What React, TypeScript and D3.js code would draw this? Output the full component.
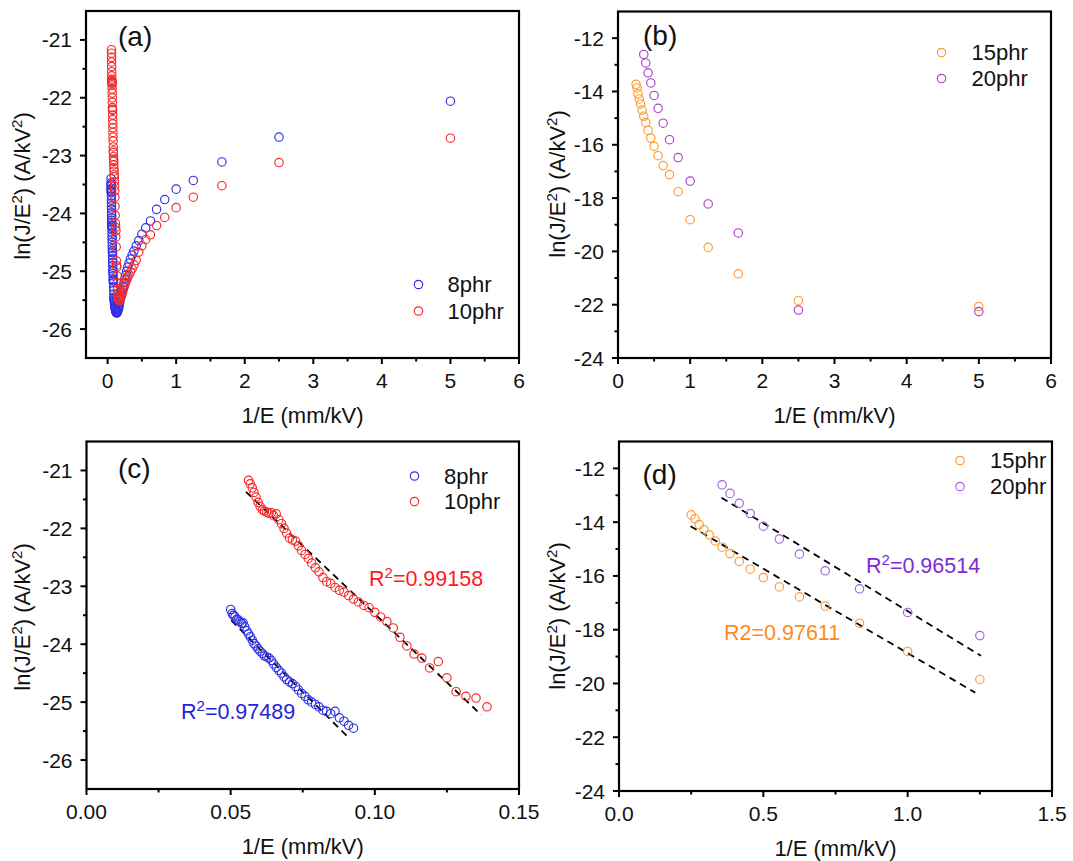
import React from "react";
import * as d3 from "d3";

const FONT = "'Liberation Sans', Arial, Helvetica, sans-serif";

// 1/E (mm/kV) values for the 8phr sample (high field -> low field)
const X_8PHR = [
  0.05, 0.0505, 0.051, 0.0515, 0.0521, 0.0526, 0.0532, 0.0538, 0.0543, 0.0549,
  0.0556, 0.0562, 0.0568, 0.0575, 0.0581, 0.0588, 0.0595, 0.0602, 0.061, 0.0617,
  0.0625, 0.0633, 0.0641, 0.0649, 0.0658, 0.0667, 0.0676, 0.0685, 0.0694, 0.0704,
  0.0714, 0.0725, 0.0735, 0.0746, 0.0758, 0.0769, 0.0781, 0.0794, 0.0806, 0.082,
  0.0833, 0.0847, 0.0862, 0.0877, 0.0893, 0.0909, 0.0926, 0.0943, 0.0962, 0.098,
  0.1, 0.102, 0.1042, 0.1064, 0.1087, 0.1111, 0.1136, 0.1163, 0.119, 0.122,
  0.125, 0.1282, 0.1316, 0.1351, 0.1389, 0.1429, 0.1471, 0.1515, 0.1563, 0.1613,
  0.1667, 0.1724, 0.1786, 0.1852, 0.1923, 0.2, 0.2083, 0.2174, 0.2273, 0.2381,
  0.25, 0.2632, 0.2778, 0.2941, 0.3125, 0.3333, 0.3571, 0.3846, 0.4167, 0.4545,
  0.5, 0.5556, 0.625, 0.7143, 0.8333, 1.0, 1.25, 1.6667, 2.5, 5.0,
];
const Y_8PHR = [
  -23.4, -23.47, -23.5, -23.53, -23.57, -23.58, -23.61, -23.64, -23.63, -23.7,
  -23.77, -23.82, -23.87, -23.93, -23.99, -24.03, -24.08, -24.12, -24.16, -24.2,
  -24.22, -24.24, -24.28, -24.34, -24.4, -24.45, -24.5, -24.56, -24.61, -24.65,
  -24.68, -24.73, -24.79, -24.85, -24.9, -24.96, -25.0, -25.04, -25.08, -25.14,
  -25.16, -25.2, -25.16, -25.27, -25.33, -25.4, -25.45, -25.48, -25.5, -25.52,
  -25.55, -25.57, -25.59, -25.61, -25.63, -25.64, -25.66, -25.67, -25.69, -25.7,
  -25.71, -25.71, -25.72, -25.72, -25.71, -25.7, -25.69, -25.67, -25.65, -25.63,
  -25.6, -25.57, -25.53, -25.49, -25.45, -25.41, -25.36, -25.31, -25.26, -25.2,
  -25.14, -25.07, -25.0, -24.93, -24.86, -24.79, -24.72, -24.65, -24.56, -24.47,
  -24.36, -24.25, -24.13, -23.93, -23.76, -23.58, -23.43, -23.11, -22.68, -22.06,
];

const X_10PHR = [
  0.0562, 0.0568, 0.0575, 0.0581, 0.0588, 0.0595, 0.0602, 0.061, 0.0617, 0.0625,
  0.0633, 0.0641, 0.0649, 0.0658, 0.0667, 0.0676, 0.0685, 0.0694, 0.0704, 0.0714,
  0.0725, 0.0735, 0.0746, 0.0758, 0.0769, 0.0781, 0.0794, 0.0806, 0.082, 0.0833,
  0.0847, 0.0862, 0.0877, 0.0893, 0.0909, 0.0926, 0.0943, 0.0962, 0.098, 0.1,
  0.102, 0.1042, 0.1064, 0.1087, 0.1111, 0.1136, 0.1163, 0.119, 0.122, 0.125,
  0.1282, 0.1316, 0.1351, 0.1389, 0.1429, 0.1471, 0.1515, 0.1563, 0.1613, 0.1667,
  0.1724, 0.1786, 0.1852, 0.1923, 0.2, 0.2083, 0.2174, 0.2273, 0.2381, 0.25,
  0.2632, 0.2778, 0.2941, 0.3125, 0.3333, 0.3571, 0.3846, 0.4167, 0.4545, 0.5,
  0.5556, 0.625, 0.7143, 0.8333, 1.0, 1.25, 1.6667, 2.5, 5.0,
];
const Y_10PHR = [
  -21.17, -21.23, -21.3, -21.38, -21.46, -21.55, -21.62, -21.68, -21.7, -21.72,
  -21.74, -21.73, -21.78, -21.75, -21.85, -21.92, -22.0, -22.08, -22.17, -22.2,
  -22.22, -22.3, -22.38, -22.45, -22.52, -22.6, -22.68, -22.75, -22.85, -22.92,
  -22.95, -23.02, -23.07, -23.1, -23.16, -23.22, -23.27, -23.33, -23.37, -23.45,
  -23.53, -23.61, -23.72, -23.88, -24.03, -24.17, -24.24, -24.41, -24.3, -24.58,
  -24.82, -24.9, -24.93, -25.08, -25.2, -25.3, -25.38, -25.44, -25.48, -25.5,
  -25.51, -25.5, -25.48, -25.46, -25.43, -25.4, -25.36, -25.32, -25.28, -25.24,
  -25.19, -25.15, -25.1, -25.06, -25.01, -24.96, -24.89, -24.81, -24.67, -24.56,
  -24.45, -24.37, -24.21, -24.07, -23.9, -23.72, -23.52, -23.12, -22.7,
];

const X_15PHR = [
  0.25, 0.2632, 0.2778, 0.2941, 0.3125, 0.3333, 0.3571, 0.3846, 0.4167, 0.4545,
  0.5, 0.5556, 0.625, 0.7143, 0.8333, 1.0, 1.25, 1.6667, 2.5, 5.0,
];
const Y_15PHR = [
  -13.73, -13.87, -14.09, -14.28, -14.47, -14.7, -14.93, -15.17, -15.46, -15.75,
  -16.06, -16.41, -16.78, -17.12, -17.76, -18.81, -19.85, -20.84, -21.85, -22.07,
];

const X_20PHR = [
  0.3571, 0.3846, 0.4167, 0.4545, 0.5, 0.5556, 0.625, 0.7143, 0.8333, 1.0,
  1.25, 1.6667, 2.5, 5.0,
];
const Y_20PHR = [
  -12.61, -12.93, -13.3, -13.68, -14.15, -14.63, -15.19, -15.81, -16.48, -17.36,
  -18.22, -19.31, -22.2, -22.26,
];

// Linear fits (end points)
const FIT_8PHR_X = [0.0502, 0.0902];
const FIT_8PHR_Y = [-23.59, -25.58];
const FIT_10PHR_X = [0.0553, 0.1369];
const FIT_10PHR_Y = [-21.37, -25.22];
const FIT_15PHR_X = [0.248, 1.234];
const FIT_15PHR_Y = [-14.15, -20.34];
const FIT_20PHR_X = [0.355, 1.254];
const FIT_20PHR_Y = [-13.09, -18.97];

// Ticks
const TICKS_A_X = [0, 1, 2, 3, 4, 5, 6];
const MINOR_A_X = [0.5, 1.5, 2.5, 3.5, 4.5, 5.5];
const TICKS_A_Y = [-26, -25, -24, -23, -22, -21];
const MINOR_A_Y = [-25.5, -24.5, -23.5, -22.5, -21.5];
const TICKS_B_X = [0, 1, 2, 3, 4, 5, 6];
const MINOR_B_X = [0.5, 1.5, 2.5, 3.5, 4.5, 5.5];
const TICKS_B_Y = [-24, -22, -20, -18, -16, -14, -12];
const MINOR_B_Y = [-23, -21, -19, -17, -15, -13];
const TICKS_C_X = [0, 0.05, 0.1, 0.15];
const MINOR_C_X = [0.025, 0.075, 0.125];
const TICKS_D_X = [0, 0.5, 1.0, 1.5];
const MINOR_D_X = [0.25, 0.75, 1.25];

const C_BLUE = "#3030e6";
const C_RED = "#f52a2a";
const C_ORANGE = "#ff9a30";
const C_MAGENTA = "#b23ccb";
const C_VIOLET = "#a062e6";
const T_BLUE = "#2424d8";
const T_RED = "#ff1a1a";
const T_ORANGE = "#ff8a1c";
const T_VIOLET = "#7c2ad8";

const TICK_FS = 21;
const TITLE_FS = 22;
const LEGEND_FS = 22;
const LABEL_FS = 28;
const NOTE_FS = 21.5;

interface SeriesCfg {
  xs: number[];
  ys: number[];
  color: string;
  maxX: number;
  name: string;
}
interface FitCfg {
  xs: number[];
  ys: number[];
}
interface PanelCfg {
  l: number;
  r: number;
  t: number;
  b: number;
  xDomain: [number, number];
  yDomain: [number, number];
  xTicks: number[];
  xMinor: number[];
  xFmt: (v: number) => string;
  yTicks: number[];
  yMinor: number[];
  series: SeriesCfg[];
  fits: FitCfg[];
  legend: { mx: number; my: number; tx: number; dy: number };
  label: { text: string; x: number; y: number };
  yTitle: { x: number; y: number };
}

const fmtInt = (v: number) => String(v);

function Panel({ cfg, children }: { cfg: PanelCfg; children?: React.ReactNode }) {
  const x = d3.scaleLinear().domain(cfg.xDomain).range([cfg.l, cfg.r]);
  const y = d3.scaleLinear().domain(cfg.yDomain).range([cfg.b, cfg.t]);
  const line = d3
    .line<[number, number]>()
    .x((d) => x(d[0]))
    .y((d) => y(d[1]));
  const cx = (cfg.l + cfg.r) / 2;
  return (
    <g>
      {cfg.fits.map((f, i) => (
        <path
          key={"f" + i}
          d={line(f.xs.map((v, j) => [v, f.ys[j]] as [number, number])) || ""}
          fill="none"
          stroke="#000"
          strokeWidth={1.8}
          strokeDasharray="7,5"
        />
      ))}
      {cfg.series.map((s, si) =>
        s.xs.map((v, j) =>
          v <= s.maxX ? (
            <circle
              key={`s${si}-${j}`}
              cx={x(v)}
              cy={y(s.ys[j])}
              r={4.2}
              fill="none"
              stroke={s.color}
              strokeWidth={1.15}
            />
          ) : null
        )
      )}
      <rect
        x={cfg.l}
        y={cfg.t}
        width={cfg.r - cfg.l}
        height={cfg.b - cfg.t}
        fill="none"
        stroke="#000"
        strokeWidth={2.2}
      />
      {cfg.xTicks.map((v) => (
        <g key={"xt" + v}>
          <line x1={x(v)} x2={x(v)} y1={cfg.b} y2={cfg.b + 6} stroke="#000" strokeWidth={2} />
          <text
            x={x(v)}
            y={cfg.b + 30}
            textAnchor="middle"
            fontSize={TICK_FS}
            fontFamily={FONT}
            fill="#111"
          >
            {cfg.xFmt(v)}
          </text>
        </g>
      ))}
      {cfg.xMinor.map((v) => (
        <line key={"xm" + v} x1={x(v)} x2={x(v)} y1={cfg.b} y2={cfg.b + 3.5} stroke="#000" strokeWidth={2} />
      ))}
      {cfg.yTicks.map((v) => (
        <g key={"yt" + v}>
          <line x1={cfg.l - 6} x2={cfg.l} y1={y(v)} y2={y(v)} stroke="#000" strokeWidth={2} />
          <text
            x={cfg.l - 14}
            y={y(v)}
            dy="0.36em"
            textAnchor="end"
            fontSize={TICK_FS}
            fontFamily={FONT}
            fill="#111"
          >
            {fmtInt(v)}
          </text>
        </g>
      ))}
      {cfg.yMinor.map((v) => (
        <line key={"ym" + v} x1={cfg.l - 3.5} x2={cfg.l} y1={y(v)} y2={y(v)} stroke="#000" strokeWidth={2} />
      ))}
      <text
        x={cx}
        y={cfg.b + 65}
        textAnchor="middle"
        fontSize={TITLE_FS}
        fontFamily={FONT}
        fill="#111"
      >
        1/E (mm/kV)
      </text>
      <text
        transform={`translate(${cfg.yTitle.x},${cfg.yTitle.y}) rotate(-90)`}
        textAnchor="middle"
        fontSize={TITLE_FS}
        fontFamily={FONT}
        fill="#111"
      >
        ln(J/E
        <tspan dy={-8} fontSize={15}>
          2
        </tspan>
        <tspan dy={8}>) (A/kV</tspan>
        <tspan dy={-8} fontSize={15}>
          2
        </tspan>
        <tspan dy={8}>)</tspan>
      </text>
      <text x={cfg.label.x} y={cfg.label.y} fontSize={LABEL_FS} fontFamily={FONT} fill="#111">
        {cfg.label.text}
      </text>
      {cfg.series.map((s, i) => (
        <g key={"lg" + i}>
          <circle
            cx={cfg.legend.mx}
            cy={cfg.legend.my + i * cfg.legend.dy}
            r={4.2}
            fill="none"
            stroke={s.color}
            strokeWidth={1.15}
          />
          <text
            x={cfg.legend.tx}
            y={cfg.legend.my + i * cfg.legend.dy + 7.8}
            fontSize={LEGEND_FS}
            fontFamily={FONT}
            fill="#111"
          >
            {s.name}
          </text>
        </g>
      ))}
      {children}
    </g>
  );
}

const PANEL_A: PanelCfg = {
  l: 86,
  r: 519,
  t: 11,
  b: 358,
  xDomain: [-0.315, 6],
  yDomain: [-26.5, -20.5],
  xTicks: TICKS_A_X,
  xMinor: MINOR_A_X,
  xFmt: fmtInt,
  yTicks: TICKS_A_Y,
  yMinor: MINOR_A_Y,
  series: [
    { xs: X_8PHR, ys: Y_8PHR, color: C_BLUE, maxX: 10, name: "8phr" },
    { xs: X_10PHR, ys: Y_10PHR, color: C_RED, maxX: 10, name: "10phr" },
  ],
  fits: [],
  legend: { mx: 418.5, my: 284.5, tx: 447.5, dy: 26.5 },
  label: { text: "(a)", x: 118, y: 46 },
  yTitle: { x: 30, y: 186 },
};

const PANEL_B: PanelCfg = {
  l: 618,
  r: 1051,
  t: 11.5,
  b: 358,
  xDomain: [0, 6],
  yDomain: [-24, -11],
  xTicks: TICKS_B_X,
  xMinor: MINOR_B_X,
  xFmt: fmtInt,
  yTicks: TICKS_B_Y,
  yMinor: MINOR_B_Y,
  series: [
    { xs: X_15PHR, ys: Y_15PHR, color: C_ORANGE, maxX: 10, name: "15phr" },
    { xs: X_20PHR, ys: Y_20PHR, color: C_MAGENTA, maxX: 10, name: "20phr" },
  ],
  fits: [],
  legend: { mx: 941.5, my: 52.5, tx: 971.5, dy: 26 },
  label: { text: "(b)", x: 643, y: 45 },
  yTitle: { x: 565, y: 184 },
};

const PANEL_C: PanelCfg = {
  l: 86.5,
  r: 519,
  t: 441.5,
  b: 789,
  xDomain: [0, 0.15],
  yDomain: [-26.5, -20.5],
  xTicks: TICKS_C_X,
  xMinor: MINOR_C_X,
  xFmt: d3.format(".2f"),
  yTicks: TICKS_A_Y,
  yMinor: MINOR_A_Y,
  series: [
    { xs: X_8PHR, ys: Y_8PHR, color: C_BLUE, maxX: 0.093, name: "8phr" },
    { xs: X_10PHR, ys: Y_10PHR, color: C_RED, maxX: 0.14, name: "10phr" },
  ],
  fits: [
    { xs: FIT_8PHR_X, ys: FIT_8PHR_Y },
    { xs: FIT_10PHR_X, ys: FIT_10PHR_Y },
  ],
  legend: { mx: 414.5, my: 476, tx: 444, dy: 25.5 },
  label: { text: "(c)", x: 118, y: 478 },
  yTitle: { x: 30, y: 617 },
};

const PANEL_D: PanelCfg = {
  l: 619,
  r: 1052,
  t: 441.5,
  b: 791,
  xDomain: [0, 1.5],
  yDomain: [-24, -11],
  xTicks: TICKS_D_X,
  xMinor: MINOR_D_X,
  xFmt: d3.format(".1f"),
  yTicks: TICKS_B_Y,
  yMinor: MINOR_B_Y,
  series: [
    { xs: X_15PHR, ys: Y_15PHR, color: C_ORANGE, maxX: 1.3, name: "15phr" },
    { xs: X_20PHR, ys: Y_20PHR, color: C_VIOLET, maxX: 1.3, name: "20phr" },
  ],
  fits: [
    { xs: FIT_15PHR_X, ys: FIT_15PHR_Y },
    { xs: FIT_20PHR_X, ys: FIT_20PHR_Y },
  ],
  legend: { mx: 960, my: 460.5, tx: 990, dy: 26 },
  label: { text: "(d)", x: 642.5, y: 484 },
  yTitle: { x: 565, y: 616 },
};

function R2Label({
  x,
  y,
  color,
  value,
  sup,
}: {
  x: number;
  y: number;
  color: string;
  value: string;
  sup: boolean;
}) {
  return (
    <text x={x} y={y} fontSize={NOTE_FS} fontFamily={FONT} fill={color}>
      R
      {sup ? (
        <>
          <tspan dy={-8} fontSize={15}>
            2
          </tspan>
          <tspan dy={8}>={value}</tspan>
        </>
      ) : (
        <tspan>2={value}</tspan>
      )}
    </text>
  );
}

export default function App() {
  return (
    <svg
      width={1073}
      height={861}
      viewBox="0 0 1073 861"
      style={{ position: "absolute", left: 0, top: 0, background: "#fff" }}
    >
      <rect x={0} y={0} width={1073} height={861} fill="#fff" />
      <Panel cfg={PANEL_A} />
      <Panel cfg={PANEL_B} />
      <Panel cfg={PANEL_C}>
        <R2Label x={369} y={586} color={T_RED} value="0.99158" sup />
        <R2Label x={181} y={719} color={T_BLUE} value="0.97489" sup />
      </Panel>
      <Panel cfg={PANEL_D}>
        <R2Label x={866} y={572.5} color={T_VIOLET} value="0.96514" sup />
        <R2Label x={724} y={640} color={T_ORANGE} value="0.97611" sup={false} />
      </Panel>
    </svg>
  );
}
